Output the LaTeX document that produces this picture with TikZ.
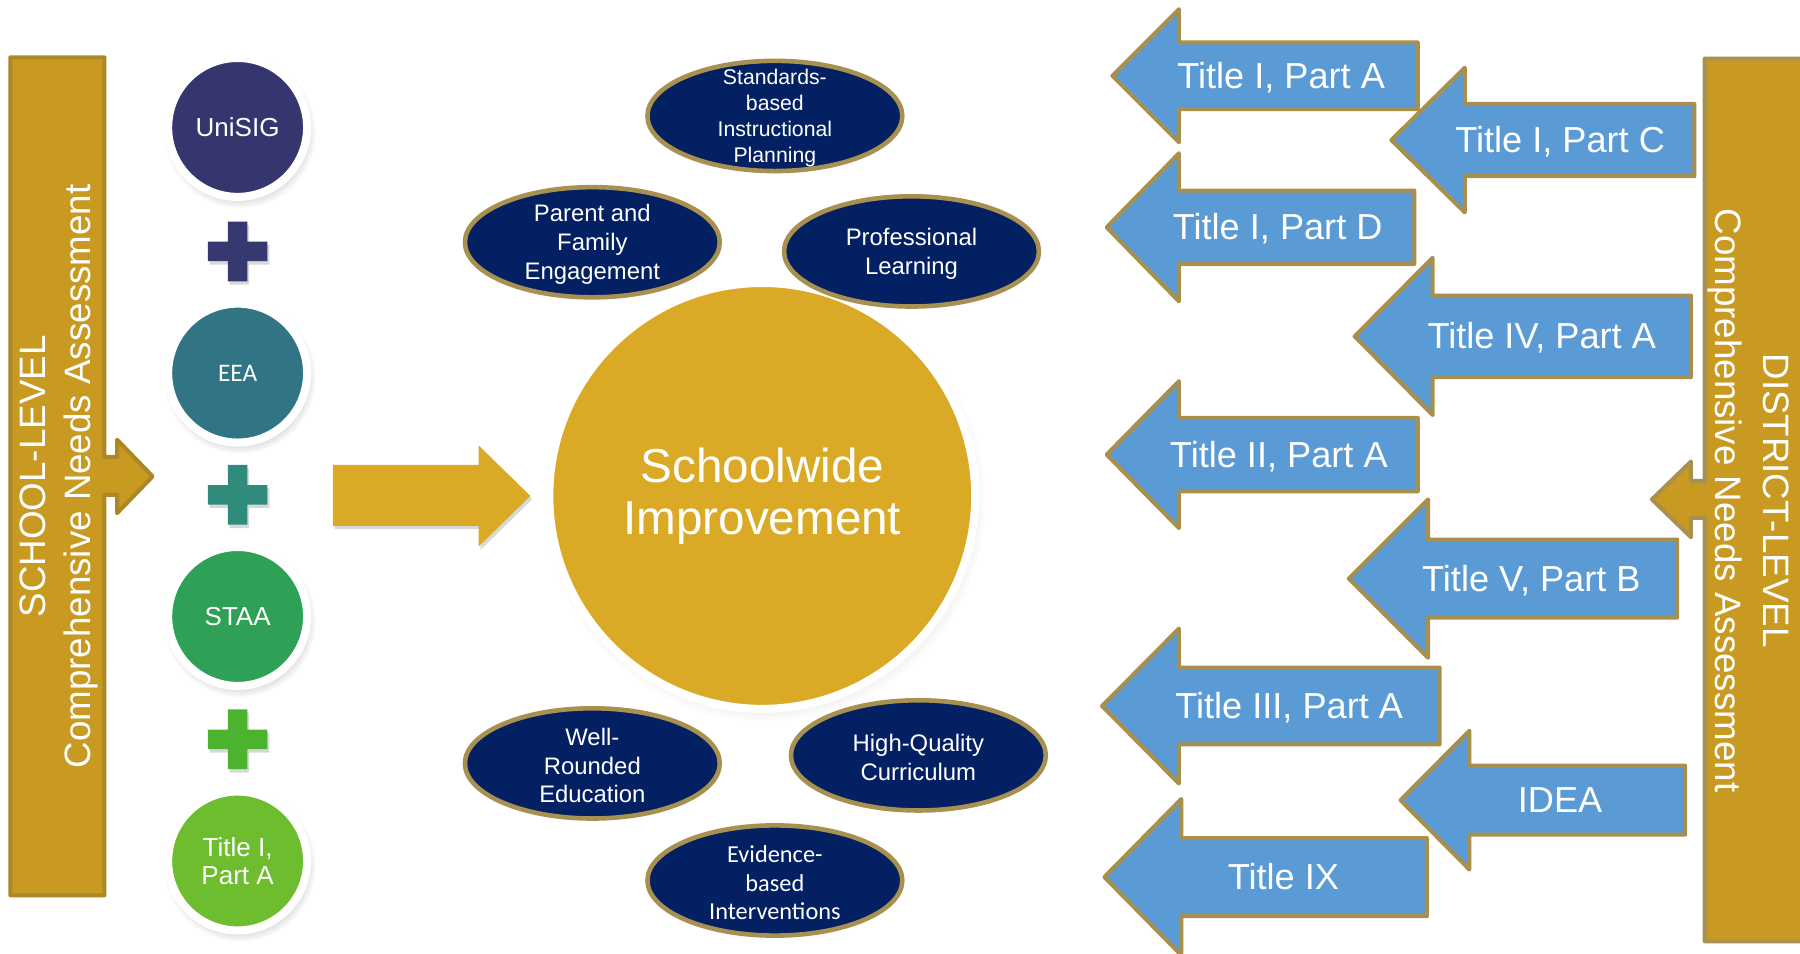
\documentclass[tikz,border=0pt]{standalone}
\usepackage{fontspec}
\setmainfont{Liberation Sans}
\newfontfamily\calib{Carlito}
\usetikzlibrary{shapes.geometric,shadows}
\definecolor{barfill}{HTML}{C99A22}
\definecolor{barline}{HTML}{AC8824}
\definecolor{barlineR}{HTML}{A8904E}
\definecolor{goldfill}{HTML}{DAA926}
\definecolor{navy}{HTML}{022062}
\definecolor{ellline}{HTML}{A89050}
\definecolor{arrblue}{HTML}{5B9BD5}
\definecolor{arrline}{HTML}{A8904C}
\definecolor{cUni}{HTML}{35366D}
\definecolor{pUni}{HTML}{363870}
\definecolor{cEEA}{HTML}{317584}
\definecolor{pEEA}{HTML}{2F8C7C}
\definecolor{cSTAA}{HTML}{2EA156}
\definecolor{pSTAA}{HTML}{4BB32E}
\definecolor{cTI}{HTML}{6DBD2E}
\newcommand\fs[2]{\fontsize{#1pt}{#2pt}\selectfont}
\newcommand\titlearrow[9]{%
  \draw[tarrow] (#2,#3) -- ({#4},{#3-#5}) -- ({#4},{#3-#6}) -- ({#7},{#3-#6})
    -- ({#7},{#3+#6}) -- ({#4},{#3+#6}) -- ({#4},{#3+#5}) -- cycle;
  \node[ttext] (#1) at ({#8},{#3+11}) {#9};}
\begin{document}
\begin{tikzpicture}[x=0.5pt,y=-0.5pt,
  srccirc/.style={circle, minimum size=60.5pt, inner sep=0pt, outer sep=0pt,
    draw=white, line width=3.5pt, text=white, align=center,
    circular drop shadow={shadow xshift=0.8pt, shadow yshift=-1.8pt, shadow scale=1.1, opacity=0.3}},
  bigcirc/.style={circle, minimum size=185.5pt, inner sep=0pt, outer sep=0pt,
    draw=white, line width=3.5pt, fill=goldfill, text=white, align=center,
    font=\fs{20.75}{22.5},
    circular drop shadow={shadow xshift=1.2pt, shadow yshift=-2.2pt, shadow scale=1.035, opacity=0.28}},
  ell/.style={ellipse, draw=ellline, line width=2pt, fill=navy,
    minimum width=111pt, minimum height=48pt, inner sep=0pt},
  elltext/.style={text=white, align=center, inner sep=0pt, yshift=-1pt},
  tarrow/.style={fill=arrblue, draw=arrline, line width=1.75pt, line join=round},
  ttext/.style={text=white, font=\fs{15.75}{18}, anchor=base, inner sep=0pt},
  bartext/.style={text=white, font=\fs{16}{18}, anchor=base, inner sep=0pt},
  plusshadow/.style={drop shadow={shadow xshift=0.8pt, shadow yshift=-1.5pt, opacity=0.3}}
]
\useasboundingbox[fill=white] (0,0) rectangle (1568,831);

% ---------- left bar ----------
\draw[fill=barfill, draw=barline, line width=1.75pt, line join=round]
  (9,50) -- (91,50) -- (91,398) -- (102,398) -- (102,383) -- (133,415)
  -- (102,447) -- (102,431) -- (91,431) -- (91,780) -- (9,780) -- cycle;
\node[bartext, rotate=90] (sl1) at (40,415) {SCHOOL-LEVEL};
\node[bartext, rotate=90] (sl2) at (79,415) {Comprehensive Needs Assessment};

% ---------- right bar ----------
\draw[fill=barfill, draw=barlineR, line width=1.75pt, line join=round]
  (1485,51) -- (1585,51) -- (1585,820) -- (1485,820) -- (1485,451) -- (1473,451)
  -- (1473,468) -- (1439,435) -- (1473,402) -- (1473,419) -- (1485,419) -- cycle;
\node[bartext, rotate=-90] (dl1) at (1536,436) {DISTRICT-LEVEL};
\node[bartext, rotate=-90] (dl2) at (1494,436) {Comprehensive Needs Assessment};

% ---------- left column ----------
\node[srccirc, fill=cUni, font=\fs{11.35}{12.25}] (uni) at (207,111) {UniSIG};
\node[srccirc, fill=cEEA, font=\calib\fs{11}{12}] (eea) at (207,325) {EEA};
\node[srccirc, fill=cSTAA, font=\fs{11.3}{12.25}] (staa) at (207,537) {STAA};
\node[srccirc, fill=cTI, font=\fs{11.35}{12.25}] (t1a) at (207,750) {Title I,\\Part A};

\foreach \cy/\col in {219/pUni, 431/pEEA, 644/pSTAA}{
  \fill[\col, plusshadow] (181,\cy-8.5) -- (198.5,\cy-8.5) -- (198.5,\cy-26) -- (215.5,\cy-26)
    -- (215.5,\cy-8.5) -- (233,\cy-8.5) -- (233,\cy+8.5) -- (215.5,\cy+8.5) -- (215.5,\cy+26)
    -- (198.5,\cy+26) -- (198.5,\cy+8.5) -- (181,\cy+8.5) -- cycle;
}

% ---------- big arrow ----------
\fill[goldfill, drop shadow={shadow xshift=0.8pt, shadow yshift=-1.5pt, opacity=0.3}]
  (290,405) -- (417,405) -- (417,388) -- (462,432) -- (417,476) -- (417,458) -- (290,458) -- cycle;

% ---------- centre ----------
\node[bigcirc] (swi) at (664,432) {Schoolwide\\Improvement};

\node[ell] (e1) at (675,101) {};
\node[elltext, font=\fs{9.25}{11.25}] at (e1) {Standards-\\based\\Instructional\\Planning};
\node[ell] (e2) at (516,211) {};
\node[elltext, font=\fs{10.4}{12.5}] at (e2) {Parent and\\Family\\Engagement};
\node[ell] (e3) at (794,219) {};
\node[elltext, font=\fs{10.4}{12.5}] at (e3) {Professional\\Learning};
\node[ell] (e4) at (516,665) {};
\node[elltext, font=\fs{10.4}{12.5}] at (e4) {Well-\\Rounded\\Education};
\node[ell] (e5) at (800,658) {};
\node[elltext, font=\fs{10.4}{12.5}] at (e5) {High-Quality\\Curriculum};
\node[ell] (e6) at (675,767) {};
\node[elltext, font=\calib\fs{10.6}{12.5}] at (e6) {Evidence-\\based\\Interventions};

% ---------- title arrows ----------
\titlearrow{a1}{969}{66}{1027}{58}{29}{1235}{1116}{Title I, Part A}
\titlearrow{a2}{1212}{122}{1276}{63}{31.5}{1476}{1359}{Title I, Part C}
\titlearrow{a3}{964}{198}{1027}{64.5}{32}{1232}{1113}{Title I, Part D}
\titlearrow{a4}{1180}{293}{1248}{68.5}{35.5}{1473}{1343}{Title IV, Part A}
\titlearrow{a5}{964}{396}{1027}{64}{32}{1235}{1114}{Title II, Part A}
\titlearrow{a6}{1175}{504}{1244}{69}{34}{1461}{1334}{Title V, Part B}
\titlearrow{a7}{960}{615}{1027}{67.5}{33.5}{1254}{1123}{Title III, Part A}
\titlearrow{a8}{1220}{697}{1280}{60.5}{30}{1468}{1359}{IDEA}
\titlearrow{a9}{962}{764}{1029}{68}{34}{1243}{1118}{Title IX}
\end{tikzpicture}
\end{document}
